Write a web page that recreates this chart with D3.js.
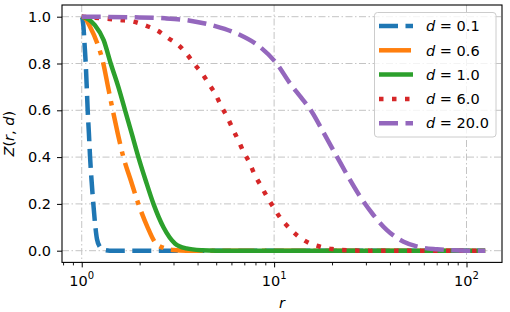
<!DOCTYPE html>
<html>
<head>
<meta charset="utf-8">
<script src="https://cdn.jsdelivr.net/npm/d3@7"></script>
<style>
  html, body { margin: 0; padding: 0; background: #fff; }
  svg { display: block; font-family: "DejaVu Sans", sans-serif; }
</style>
</head>
<body>
<svg id="chart" width="510" height="312"></svg>
<script>
// ---- data ----
const seriesLabels = ["0.1", "0.6", "1.0", "6.0", "20.0"];
const seriesColors = ["#1f77b4", "#ff7f0e", "#2ca02c", "#d62728", "#9467bd"];

// r values and Z(r,d) values for each curve
const rD01 = [1, 1.01, 1.02, 1.035, 1.049, 1.062, 1.074, 1.09, 1.105, 1.125, 1.149, 1.175, 1.2, 1.24, 1.3, 1.4, 125];
const zD01 = [1, 0.99, 0.96, 0.88, 0.8, 0.7, 0.6, 0.5, 0.4, 0.3, 0.2, 0.11, 0.05, 0.018, 0.004, 0, 0];

const rD06 = [1, 1.05, 1.1, 1.2, 1.295, 1.37, 1.45, 1.54, 1.646, 1.8, 1.97, 2.2, 2.41, 2.7, 3.0, 3.5, 125];
const zD06 = [1, 0.99, 0.96, 0.89, 0.8, 0.7, 0.6, 0.5, 0.4, 0.3, 0.2, 0.1, 0.035, 0.01, 0.003, 0, 0];

const rD1 = [1, 1.08, 1.17, 1.3, 1.415, 1.55, 1.68, 1.82, 1.97, 2.15, 2.36, 2.66, 3.06, 3.5, 4.2, 5, 125];
const zD1 = [1, 0.99, 0.964, 0.9, 0.8, 0.7, 0.6, 0.5, 0.4, 0.3, 0.2, 0.1, 0.03, 0.01, 0.002, 0, 0];

const rD6 = [1, 1.58, 1.86, 2.15, 2.48, 2.82, 3.18, 3.52, 3.85, 4.24, 4.6, 4.98, 5.31, 5.72, 6.1, 6.53, 6.93, 7.45, 7.91, 8.49, 9.18, 9.93, 10.76, 11.89, 13.23, 15.1, 17.4, 20, 25, 30, 125];
const zD6 = [1, 0.986, 0.979, 0.962, 0.94, 0.908, 0.879, 0.84, 0.798, 0.755, 0.711, 0.665, 0.618, 0.569, 0.52, 0.47, 0.423, 0.376, 0.326, 0.281, 0.231, 0.185, 0.141, 0.10, 0.064, 0.034, 0.017, 0.007, 0.001, 0, 0];

const rD20 = [1, 2, 2.71, 3.66, 4.94, 6.53, 8.47, 10.3, 12.1, 13.8, 15.7, 18.2, 21.2, 24.3, 28, 32.3, 38.6, 47.1, 57.6, 70.3, 85, 100, 125];
const zD20 = [1, 0.997, 0.993, 0.983, 0.96, 0.925, 0.87, 0.8, 0.715, 0.655, 0.594, 0.5, 0.402, 0.315, 0.231, 0.16, 0.088, 0.038, 0.0145, 0.006, 0.0015, 0, 0];

const yTicks = [0.0, 0.2, 0.4, 0.6, 0.8, 1.0];
const xMajorExps = [0, 1, 2];

// ---- layout ----
const svg = d3.select("#chart");
const L = 62, R = 502, T = 5, B = 262.4;
const FS = 14.5;

const x = d3.scaleLog().domain([Math.pow(10, -0.1025), Math.pow(10, 2.1845)]).range([L, R]);
const y = d3.scaleLinear().domain([-0.05, 1.05]).range([B, T]);

const series = [
  { label: seriesLabels[0], color: seriesColors[0], r: rD01, z: zD01, dash: "19,7.5" },
  { label: seriesLabels[1], color: seriesColors[1], r: rD06, z: zD06, dash: "32,7.5,4.5,7.5" },
  { label: seriesLabels[2], color: seriesColors[2], r: rD1, z: zD1, dash: null },
  { label: seriesLabels[3], color: seriesColors[3], r: rD6, z: zD6, dash: "4.5,8.5" },
  { label: seriesLabels[4], color: seriesColors[4], r: rD20, z: zD20, dash: "19,7.5" }
];

// clip
svg.append("defs").append("clipPath").attr("id", "clip")
  .append("rect").attr("x", L).attr("y", T).attr("width", R - L).attr("height", B - T);

// grid
const gridColor = "#c4c4c4";
const gridDash = "7,2.5,1.5,2.5";
const grid = svg.append("g");
xMajorExps.forEach(e => {
  const gx = x(Math.pow(10, e));
  grid.append("line").attr("x1", gx).attr("x2", gx).attr("y1", T).attr("y2", B)
    .attr("stroke", gridColor).attr("stroke-width", 1).attr("stroke-dasharray", gridDash);
});
yTicks.forEach(v => {
  grid.append("line").attr("x1", L).attr("x2", R).attr("y1", y(v)).attr("y2", y(v))
    .attr("stroke", gridColor).attr("stroke-width", 1).attr("stroke-dasharray", gridDash);
});

// lines
const line = d3.line()
  .x(d => x(d[0]))
  .y(d => y(d[1]))
  .curve(d3.curveMonotoneX);

const lines = svg.append("g").attr("clip-path", "url(#clip)");
series.forEach(s => {
  const pts = s.r.map((rv, i) => [rv, s.z[i]]);
  lines.append("path").attr("d", line(pts))
    .attr("fill", "none").attr("stroke", s.color).attr("stroke-width", 4.5)
    .attr("stroke-dasharray", s.dash)
    .attr("stroke-linecap", "butt").attr("stroke-linejoin", "round");
});

// spines
svg.append("rect").attr("x", L).attr("y", T).attr("width", R - L).attr("height", B - T)
  .attr("fill", "none").attr("stroke", "#000").attr("stroke-width", 1.1);

// y axis
const yAxis = d3.axisLeft(y).tickValues(yTicks).tickSize(5).tickPadding(6).tickFormat(d3.format(".1f"));
const gy = svg.append("g").attr("transform", `translate(${L},0)`).call(yAxis);
gy.select(".domain").remove();
gy.selectAll("line").attr("stroke", "#000").attr("stroke-width", 1);
gy.selectAll("text").attr("font-family", "DejaVu Sans").attr("font-size", FS).attr("fill", "#000");

// x axis: major and minor ticks
const allTicks = x.ticks();
const isMajor = v => Math.abs(Math.log10(v) - Math.round(Math.log10(v))) < 1e-9;
const minorTicks = allTicks.filter(v => !isMajor(v));
const majorTicks = xMajorExps.map(e => Math.pow(10, e));

const gxMinor = svg.append("g").attr("transform", `translate(0,${B})`)
  .call(d3.axisBottom(x).tickValues(minorTicks).tickSize(3).tickFormat(""));
gxMinor.select(".domain").remove();
gxMinor.selectAll("line").attr("stroke", "#000").attr("stroke-width", 0.9);

const gxMajor = svg.append("g").attr("transform", `translate(0,${B})`)
  .call(d3.axisBottom(x).tickValues(majorTicks).tickSize(5).tickFormat(""));
gxMajor.select(".domain").remove();
gxMajor.selectAll("line").attr("stroke", "#000").attr("stroke-width", 1);

xMajorExps.forEach(e => {
  const t = svg.append("text").attr("x", x(Math.pow(10, e))).attr("y", 285.5)
    .attr("text-anchor", "middle").attr("font-size", FS).attr("fill", "#000");
  t.append("tspan").text("10");
  t.append("tspan").attr("dy", -6.5).attr("font-size", 10).text(String(e));
});

// axis labels
svg.append("text").attr("x", (L + R) / 2).attr("y", 307.5).attr("text-anchor", "middle")
  .attr("font-size", FS).attr("font-style", "italic").text("r");

const yl = svg.append("text").attr("transform", `translate(13.5,${(T + B) / 2}) rotate(-90)`)
  .attr("text-anchor", "middle").attr("font-size", FS).attr("fill", "#000");
yl.append("tspan").attr("font-style", "italic").text("Z");
yl.append("tspan").text("(");
yl.append("tspan").attr("font-style", "italic").text("r");
yl.append("tspan").text(", ");
yl.append("tspan").attr("font-style", "italic").text("d");
yl.append("tspan").text(")");

// legend
const lg = svg.append("g");
lg.append("rect").attr("x", 374.5).attr("y", 12.5).attr("width", 121.5).attr("height", 124.5)
  .attr("rx", 3).attr("fill", "#fff").attr("fill-opacity", 0.8)
  .attr("stroke", "#cccccc").attr("stroke-width", 1);
series.forEach((s, i) => {
  const cy = 26 + i * 24.3;
  lg.append("line").attr("x1", 379).attr("x2", 413).attr("y1", cy).attr("y2", cy)
    .attr("stroke", s.color).attr("stroke-width", 4.5)
    .attr("stroke-dasharray", s.dash).attr("stroke-linecap", "butt");
  const t = lg.append("text").attr("x", 426).attr("y", cy + 5.2)
    .attr("font-size", FS).attr("fill", "#000");
  t.append("tspan").attr("font-style", "italic").text("d");
  t.append("tspan").text(" = " + s.label);
});
</script>
</body>
</html>
